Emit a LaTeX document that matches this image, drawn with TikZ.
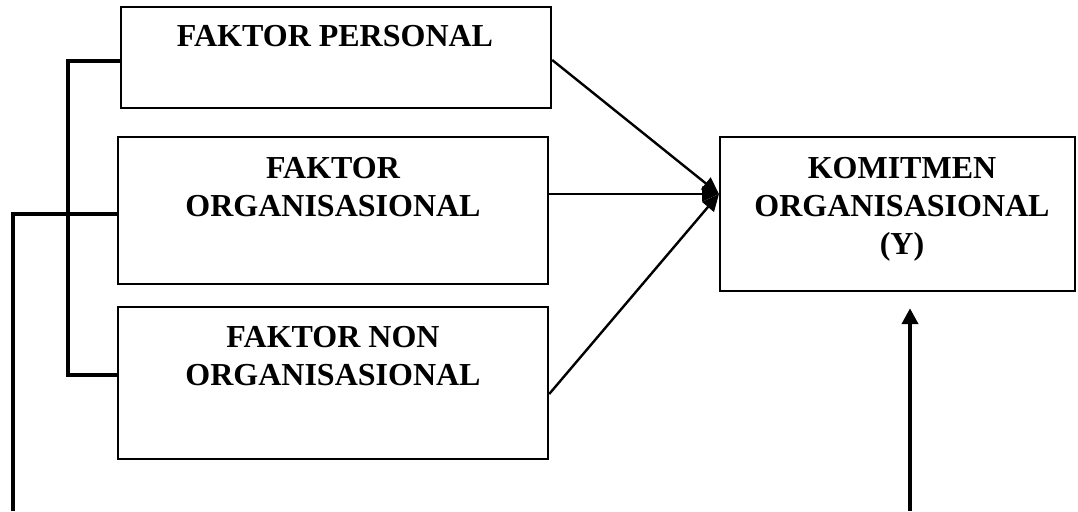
\documentclass[tikz,border=0pt]{standalone}
\usepackage{fontspec}
\setmainfont{Liberation Serif}
\usetikzlibrary{arrows.meta}
\begin{document}
\begin{tikzpicture}[x=1pt,y=-1pt,
  box/.style={draw,line width=2.4pt,rectangle,inner sep=0pt},
  label/.style={anchor=north,inner sep=0pt,align=center,
    font=\fontsize{32}{38}\selectfont\bfseries},
  brace/.style={line width=4pt},
  link/.style={line width=2.4pt,-{Triangle[length=17pt,width=15pt]}},
  feed/.style={line width=4pt,-{Triangle[length=16pt,width=16pt]}}]
\useasboundingbox (0,0) rectangle (1078,511);

% factor boxes
\node[box,minimum width=430pt,minimum height=101pt] (pers) at (336,57.5) {};
\node[box,minimum width=430pt,minimum height=147pt] (org) at (333,210.5) {};
\node[box,minimum width=430pt,minimum height=152pt] (non) at (333,383) {};
\node[box,minimum width=355pt,minimum height=154pt] (kom) at (897.5,214) {};

% box labels
\node[label] (tpers) at (335,25) {FAKTOR PERSONAL};
\node[label] (torg) at (333,157) {FAKTOR\\ORGANISASIONAL};
\node[label] (tnon) at (333,326) {FAKTOR NON\\ORGANISASIONAL};
\node[label] (tkom) at (902,157) {KOMITMEN\\ORGANISASIONAL\\(Y)};

% bracket joining the three factors
\coordinate (btop) at (68,61);
\coordinate (bbot) at (68,375);
\coordinate (lmid) at (13,214);
\coordinate (lend) at (13,511);
\draw[brace] (pers.west |- btop) -- (btop) -- (bbot) -- (non.west |- bbot);
\draw[brace] (lend) -- (lmid) -- (org.west |- lmid);

% arrows into the commitment box
\coordinate (hit) at (719,194);
\draw[link] (pers.east |- 0,60) -- (hit);
\draw[link] (org.east |- hit) -- (hit);
\draw[link] (non.east |- 0,394) -- (hit);

% return arrow from below
\coordinate (fbot) at (910,511);
\draw[feed,shorten >=16pt] (fbot) -- (fbot |- kom.south);
\end{tikzpicture}
\end{document}
